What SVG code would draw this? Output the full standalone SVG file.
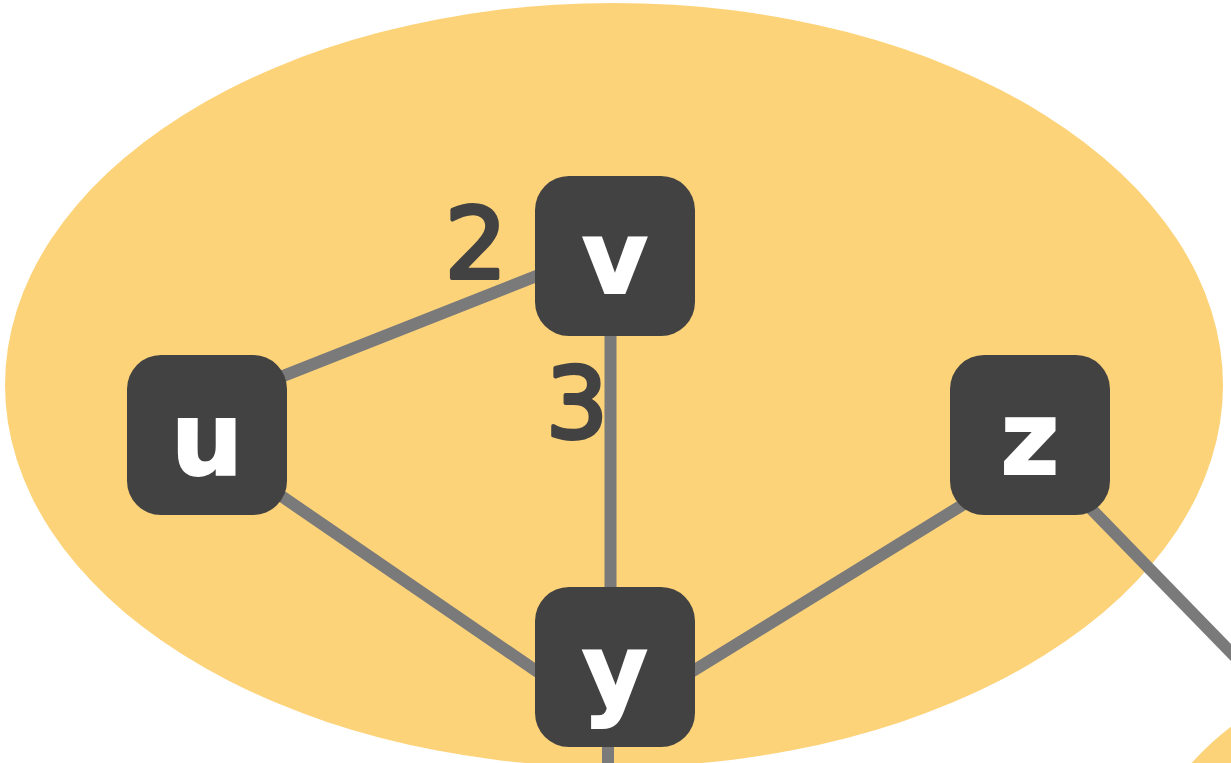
<svg xmlns="http://www.w3.org/2000/svg" width="1231" height="763" viewBox="0 0 1231 763">
<style>
.blob{fill:#FDD37A}
.edge{stroke:#7a7a7a;stroke-width:12;fill:none}
.box{fill:#424242}
.lbl{font-family:"DejaVu Sans",sans-serif;font-weight:bold;font-size:101px;fill:#ffffff;stroke:#ffffff;stroke-width:2;stroke-linejoin:miter;text-anchor:middle}
.w{font-family:"DejaVu Sans",sans-serif;font-size:98px;fill:#424242;stroke:#424242;stroke-width:4;stroke-linejoin:round;stroke-linecap:round;text-anchor:middle}
</style>
<rect width="1231" height="763" fill="#ffffff"/>
<g id="clusters">
<ellipse class="blob" cx="614" cy="385" rx="609" ry="382"/>
<circle class="blob" cx="1400" cy="950" r="280"/>
</g>
<g id="connectors">
<line class="edge" x1="207" y1="406" x2="615" y2="245"/>
<line class="edge" x1="610.5" y1="256" x2="610.5" y2="667"/>
<line class="edge" x1="207" y1="445" x2="615" y2="725"/>
<line class="edge" x1="615" y1="719" x2="1029" y2="464"/>
<line class="edge" x1="1029" y1="445" x2="1250" y2="672"/>
<line class="edge" x1="608" y1="667" x2="608" y2="770"/>
</g>
<g id="edge-labels">
<text class="w" x="476" y="278">2</text>
<text class="w" x="577" y="438">3</text>
</g>
<g id="node-u">
<rect class="box" x="127" y="355" width="160" height="160" rx="34"/>
<text class="lbl" x="207" y="475">u</text>
</g>
<g id="node-v">
<rect class="box" x="535" y="176" width="160" height="160" rx="34"/>
<text class="lbl" x="615" y="293">v</text>
</g>
<g id="node-z">
<rect class="box" x="950" y="355" width="160" height="160" rx="34"/>
<text class="lbl" x="1030" y="474">z</text>
</g>
<g id="node-y">
<rect class="box" x="535" y="587" width="160" height="160" rx="34"/>
<text class="lbl" x="615" y="706">y</text>
</g>
</svg>
